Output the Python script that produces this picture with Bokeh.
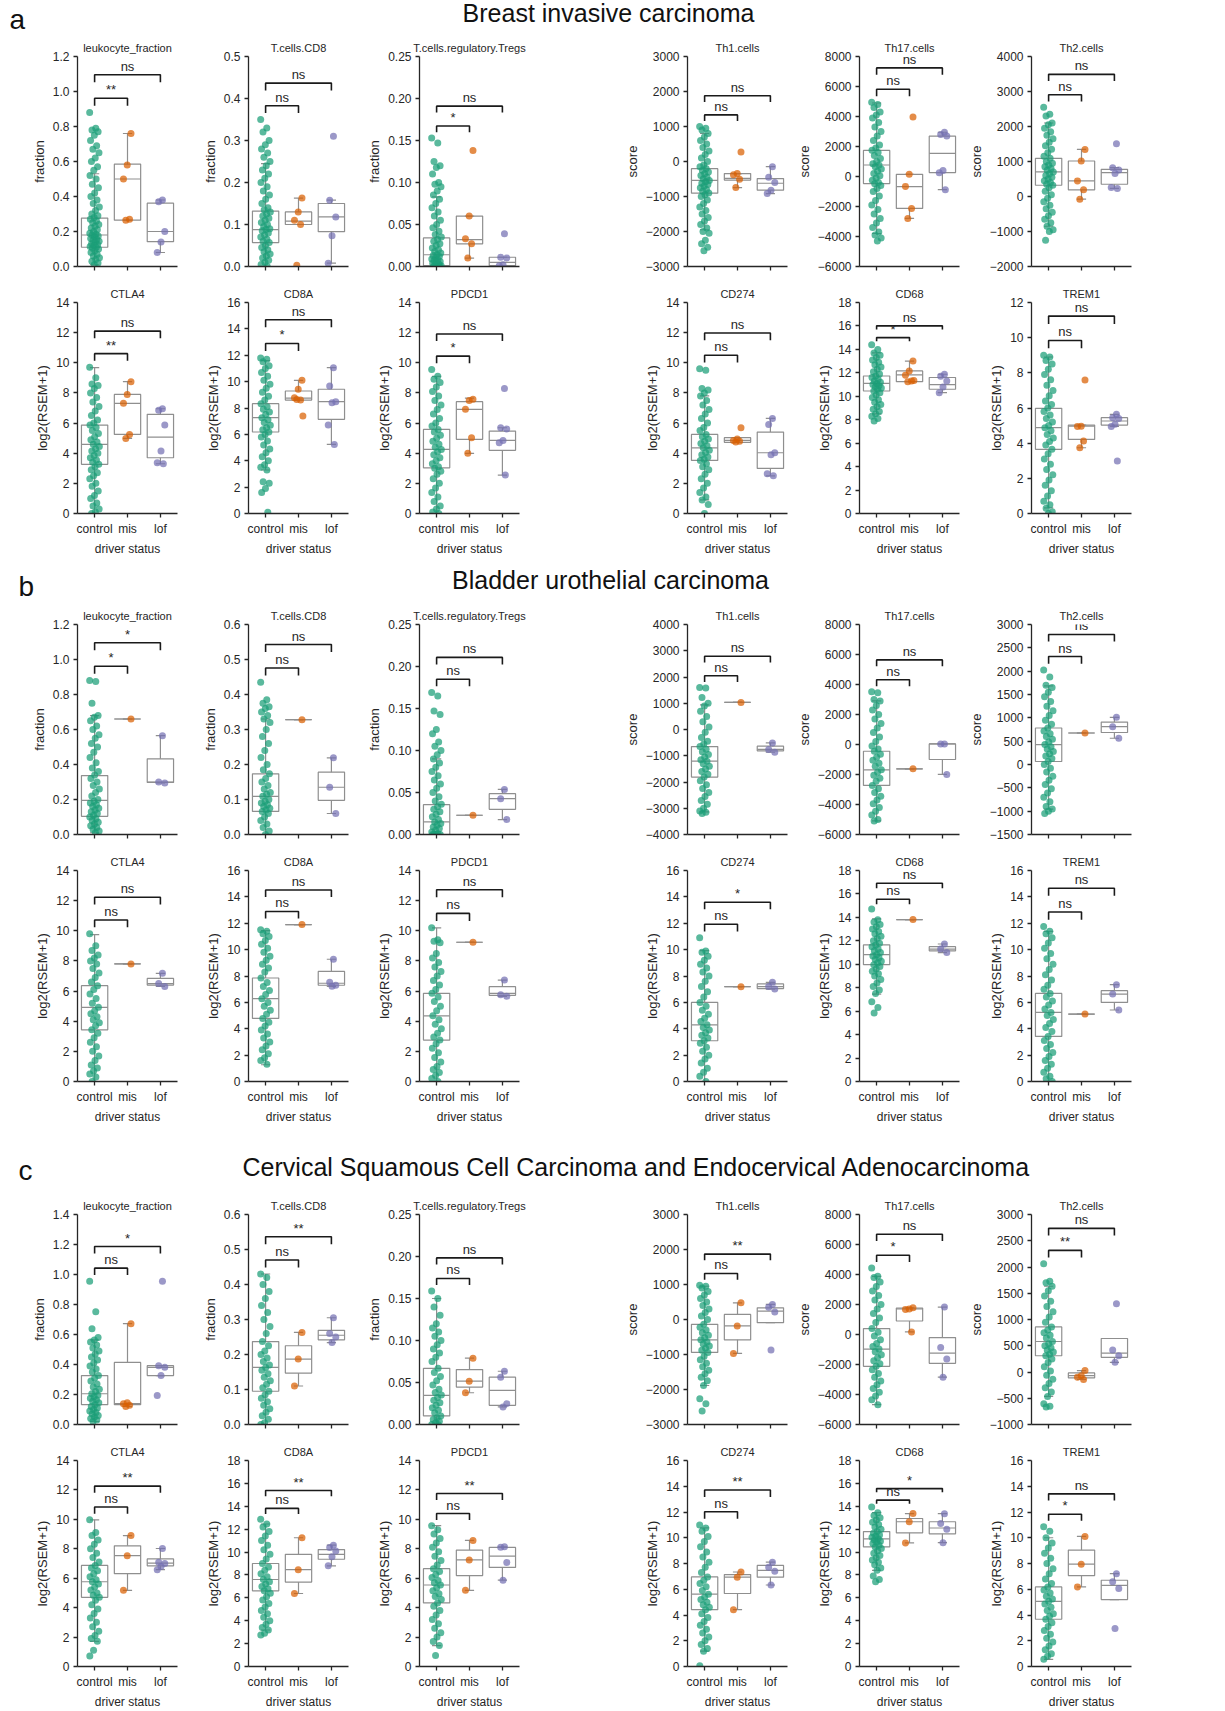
from bokeh.plotting import figure
from bokeh.models import Range1d, FixedTicker, Label
from bokeh.layouts import column, row
from bokeh.embed import file_html
from bokeh.resources import INLINE

# ---------------------------------------------------------------- labels
GROUPS = ["control", "mis", "lof"]
PANEL_TITLES = ["leukocyte_fraction", "T.cells.CD8", "T.cells.regulatory.Tregs",
                "Th1.cells", "Th17.cells", "Th2.cells",
                "CTLA4", "CD8A", "PDCD1", "CD274", "CD68", "TREM1"]
Y_LABELS = ["fraction"] * 3 + ["score"] * 3 + ["log2(RSEM+1)"] * 6
X_LABEL = "driver status"
SECTION_LETTERS = ["a", "b", "c"]
SECTION_TITLES = ["Breast invasive carcinoma",
                  "Bladder urothelial carcinoma",
                  "Cervical Squamous Cell Carcinoma and Endocervical Adenocarcinoma"]

# ---------------------------------------------------------------- BRCA (a)
brca_ylim = [(0, 1.2, 0.2), (0, 0.5, 0.1), (0, 0.25, 0.05), (-3000, 3000, 1000),
             (-6000, 8000, 2000), (-2000, 4000, 1000), (0, 14, 2), (0, 16, 2),
             (0, 14, 2), (0, 14, 2), (0, 18, 2), (0, 12, 2)]
brca_control = [
    [0.88, 0.79, 0.78, 0.77, 0.75, 0.72, 0.69, 0.67, 0.65, 0.62, 0.6, 0.57, 0.55, 0.52, 0.5, 0.47, 0.45, 0.42, 0.4, 0.38, 0.36, 0.34, 0.32, 0.3, 0.29, 0.28, 0.27, 0.26, 0.25, 0.24, 0.23, 0.22, 0.21, 0.2, 0.19, 0.185, 0.18, 0.175, 0.17, 0.16, 0.155, 0.15, 0.145, 0.14, 0.13, 0.125, 0.12, 0.115, 0.11, 0.105, 0.1, 0.09, 0.08, 0.07, 0.06, 0.05, 0.04, 0.03, 0.02, 0.01],
    [0.35, 0.33, 0.32, 0.30, 0.29, 0.28, 0.27, 0.26, 0.25, 0.24, 0.23, 0.22, 0.21, 0.2, 0.19, 0.18, 0.17, 0.16, 0.15, 0.14, 0.135, 0.13, 0.125, 0.12, 0.115, 0.11, 0.105, 0.1, 0.095, 0.09, 0.088, 0.085, 0.08, 0.075, 0.07, 0.065, 0.06, 0.057, 0.05, 0.045, 0.04, 0.035, 0.03, 0.025, 0.02, 0.015, 0.01, 0.005, 0.0],
    [0.153, 0.147, 0.125, 0.12, 0.118, 0.11, 0.1, 0.098, 0.095, 0.09, 0.085, 0.08, 0.075, 0.07, 0.065, 0.06, 0.055, 0.05, 0.046, 0.042, 0.038, 0.035, 0.032, 0.03, 0.027, 0.025, 0.022, 0.02, 0.018, 0.016, 0.014, 0.013, 0.012, 0.01, 0.009, 0.008, 0.007, 0.006, 0.005, 0.004, 0.003, 0.002, 0.001, 0.0, 0.0, 0.0, 0.0],
    [1000, 950, 900, 800, 700, 600, 500, 400, 300, 200, 100, 0, -100, -150, -200, -250, -300, -350, -400, -450, -500, -540, -580, -620, -660, -700, -750, -800, -850, -900, -950, -1000, -1100, -1200, -1300, -1400, -1500, -1600, -1700, -1800, -1900, -2000, -2050, -2250, -2350, -2450, -2550],
    [4950, 4800, 4600, 4300, 4100, 3900, 3600, 3300, 3000, 2700, 2400, 2100, 1900, 1750, 1600, 1400, 1200, 1000, 850, 770, 650, 500, 350, 200, 50, -100, -250, -400, -480, -600, -800, -1000, -1300, -1600, -1900, -2200, -2500, -2800, -3100, -3400, -3700, -3900, -4100, -4300],
    [2550, 2350, 2300, 2100, 2050, 1950, 1850, 1750, 1650, 1550, 1450, 1350, 1250, 1150, 1090, 1000, 950, 900, 850, 800, 750, 700, 650, 600, 550, 500, 450, 400, 350, 320, 250, 150, 50, -50, -150, -250, -350, -450, -550, -650, -750, -850, -950, -1000, -1250],
    [9.7, 9.0, 8.6, 8.5, 8.3, 8.0, 7.7, 7.4, 7.1, 6.8, 6.5, 6.2, 6.0, 5.87, 5.7, 5.5, 5.3, 5.1, 4.9, 4.75, 4.6, 4.45, 4.3, 4.15, 4.0, 3.85, 3.7, 3.55, 3.4, 3.26, 3.1, 2.9, 2.7, 2.5, 2.3, 2.0, 1.8, 1.5, 1.2, 1.0, 0.7, 0.5, 0.3, 0.1, 0.0],
    [11.8, 11.7, 11.5, 11.2, 11.0, 10.7, 10.4, 10.1, 9.8, 9.5, 9.2, 8.9, 8.6, 8.33, 8.1, 7.9, 7.7, 7.5, 7.27, 7.1, 6.9, 6.7, 6.5, 6.35, 6.18, 6.0, 5.8, 5.5, 5.2, 4.9, 4.6, 4.3, 4.0, 3.7, 3.5, 3.3, 2.4, 2.3, 1.9, 1.6, 0.1],
    [9.55, 9.1, 8.9, 8.7, 8.4, 8.1, 7.8, 7.5, 7.2, 6.9, 6.6, 6.3, 6.0, 5.8, 5.58, 5.4, 5.2, 5.0, 4.8, 4.6, 4.4, 4.25, 4.1, 3.9, 3.7, 3.5, 3.3, 3.1, 3.0, 2.8, 2.6, 2.3, 2.0, 1.7, 1.4, 1.1, 0.8, 0.5, 0.3, 0.1, 0.0],
    [9.6, 9.5, 8.3, 8.2, 8.0, 7.8, 7.5, 7.2, 6.9, 6.6, 6.3, 6.0, 5.7, 5.5, 5.25, 5.1, 4.95, 4.8, 4.65, 4.5, 4.36, 4.2, 4.05, 3.9, 3.75, 3.6, 3.52, 3.3, 3.1, 2.9, 2.6, 2.3, 2.0, 1.7, 1.4, 1.1, 0.9, 0.6, 0.0],
    [14.4, 14.0, 13.7, 13.5, 13.3, 13.1, 12.9, 12.7, 12.5, 12.3, 12.1, 11.9, 11.73, 11.6, 11.45, 11.3, 11.2, 11.1, 11.0, 10.9, 10.8, 10.7, 10.6, 10.45, 10.3, 10.1, 9.9, 9.7, 9.5, 9.3, 9.1, 8.9, 8.7, 8.5, 8.3, 8.1, 7.9],
    [9.0, 8.9, 8.7, 8.5, 8.2, 7.9, 7.6, 7.3, 7.0, 6.7, 6.4, 6.2, 6.0, 5.8, 5.6, 5.4, 5.2, 5.0, 4.88, 4.7, 4.5, 4.3, 4.1, 3.9, 3.65, 3.4, 3.1, 2.8, 2.5, 2.2, 1.9, 1.6, 1.3, 1.0, 0.7, 0.5, 0.3, 0.1, 0.0],
]
brca_mis = [
    [0.76, 0.58, 0.50, 0.27, 0.265],
    [0.163, 0.13, 0.11, 0.10, 0.003],
    [0.138, 0.06, 0.033, 0.027, 0.01],
    [270, -346, -380, -507, -744],
    [3975, 148, -670, -2130, -2793],
    [1346, 1014, 445, 190, -76],
    [8.75, 7.9, 7.31, 5.25, 4.98],
    [10.1, 9.42, 8.78, 8.6, 8.65, 7.39],
    [7.58, 7.5, 6.91, 5.03, 3.99],
    [5.69, 4.95, 4.85, 4.8, 4.75],
    [13.0, 12.16, 11.8, 11.3, 11.25, 11.35],
    [7.59, 4.96, 4.95, 4.12, 3.74],
]
brca_lof = [
    [0.38, 0.37, 0.20, 0.14, 0.08],
    [0.31, 0.158, 0.118, 0.073, 0.008],
    [0.039, 0.011, 0.01, 0.002, 0.001],
    [-147, -450, -602, -820, -915],
    [2950, 2800, 2700, 400, 250, -880],
    [1507, 825, 760, 654, 256, 230],
    [6.95, 6.85, 5.87, 4.14, 3.37, 3.3],
    [11.06, 9.67, 8.48, 8.4, 6.71, 5.24],
    [8.29, 5.69, 5.6, 4.85, 4.7, 2.55],
    [6.31, 5.91, 4.03, 3.9, 2.64, 2.5],
    [11.88, 11.7, 11.3, 10.8, 10.31],
    [5.64, 5.45, 5.4, 5.07, 4.95, 2.98],
]
# box statistics: (lower whisker, q1, median, q3, upper whisker)
brca_box_control = [(0.01, 0.11, 0.18, 0.277, 0.53), (0.0, 0.057, 0.088, 0.132, 0.245),
                    (0.0, 0.001, 0.014, 0.034, 0.083), (-1950, -905, -540, -205, 800),
                    (-3800, -471, 767, 1741, 4900), (-850, 322, 701, 1090, 2100),
                    (0.0, 3.26, 4.59, 5.87, 9.68), (3.3, 6.18, 7.27, 8.33, 11.6),
                    (0.0, 3.03, 4.25, 5.58, 9.1), (0.9, 3.52, 4.36, 5.25, 7.8),
                    (8.5, 10.45, 11.1, 11.73, 13.7), (0.32, 3.65, 4.88, 5.98, 8.9)]
brca_box_mis = [(0.265, 0.265, 0.50, 0.585, 0.76), (0.10, 0.10, 0.108, 0.13, 0.163),
                (0.01, 0.027, 0.032, 0.06, 0.06), (-744, -530, -480, -346, -346),
                (-2793, -2130, -670, 148, 148), (-76, 190, 445, 1014, 1346),
                (4.98, 5.25, 7.31, 7.9, 8.75), (8.6, 8.6, 8.75, 9.29, 10.1),
                (3.99, 4.92, 6.91, 7.42, 7.65), (4.72, 4.72, 4.85, 5.03, 5.03),
                (11.25, 11.25, 11.82, 12.16, 13.0), (3.74, 4.21, 4.97, 5.03, 5.03)]
brca_box_lof = [(0.08, 0.142, 0.20, 0.362, 0.38), (0.008, 0.083, 0.118, 0.15, 0.158),
                (0.0, 0.001, 0.005, 0.011, 0.011), (-915, -820, -621, -488, -147),
                (-880, 260, 1540, 2690, 2950), (230, 350, 683, 777, 825),
                (3.3, 3.7, 5.07, 6.58, 6.95), (5.24, 7.14, 8.48, 9.42, 11.06),
                (2.55, 4.19, 4.85, 5.47, 5.69), (2.5, 2.99, 4.03, 5.4, 6.31),
                (10.31, 10.6, 11.0, 11.6, 11.88), (4.95, 5.03, 5.26, 5.45, 5.64)]
brca_sig = [("**", "ns"), ("ns", "ns"), ("*", "ns"), ("ns", "ns"), ("ns", "ns"), ("ns", "ns"),
            ("**", "ns"), ("*", "ns"), ("*", "ns"), ("ns", "ns"), ("*", "ns"), ("ns", "ns")]

# ---------------------------------------------------------------- BLCA (b)
blca_ylim = [(0, 1.2, 0.2), (0, 0.6, 0.1), (0, 0.25, 0.05), (-4000, 4000, 1000),
             (-6000, 8000, 2000), (-1500, 3000, 500), (0, 14, 2), (0, 16, 2),
             (0, 14, 2), (0, 16, 2), (0, 18, 2), (0, 16, 2)]
blca_control = [
    [0.88, 0.875, 0.75, 0.68, 0.67, 0.65, 0.62, 0.6, 0.57, 0.55, 0.52, 0.5, 0.47, 0.44, 0.41, 0.38, 0.36, 0.34, 0.32, 0.3, 0.28, 0.26, 0.24, 0.22, 0.2, 0.19, 0.18, 0.17, 0.16, 0.15, 0.14, 0.13, 0.12, 0.11, 0.1, 0.09, 0.08, 0.07, 0.06, 0.05, 0.04, 0.03, 0.02, 0.01],
    [0.435, 0.385, 0.375, 0.365, 0.36, 0.35, 0.34, 0.33, 0.32, 0.3, 0.28, 0.26, 0.24, 0.22, 0.2, 0.185, 0.1735, 0.16, 0.15, 0.14, 0.13, 0.12, 0.115, 0.109, 0.1, 0.095, 0.09, 0.085, 0.08, 0.075, 0.07, 0.066, 0.06, 0.05, 0.04, 0.03, 0.02, 0.01, 0.0],
    [0.169, 0.165, 0.147, 0.143, 0.125, 0.12, 0.11, 0.105, 0.1, 0.095, 0.09, 0.085, 0.08, 0.075, 0.07, 0.065, 0.06, 0.055, 0.05, 0.045, 0.04, 0.036, 0.033, 0.03, 0.027, 0.024, 0.021, 0.018, 0.015, 0.013, 0.011, 0.009, 0.007, 0.005, 0.003, 0.001, 0.0, 0.0, 0.0, 0.0],
    [1600, 1580, 1220, 1000, 900, 700, 500, 300, 100, -100, -300, -450, -550, -651, -750, -850, -950, -1050, -1150, -1207, -1300, -1400, -1500, -1600, -1700, -1814, -1950, -2100, -2250, -2400, -2550, -2700, -2850, -3000, -3100, -3150, -3200],
    [3510, 3450, 3000, 2900, 2600, 2300, 2000, 1700, 1400, 1100, 800, 500, 200, -100, -300, -449, -650, -850, -1050, -1250, -1450, -1687, -1850, -2050, -2250, -2450, -2727, -2950, -3200, -3450, -3700, -3950, -4200, -4450, -4700, -5000, -5100],
    [2026, 1877, 1700, 1650, 1550, 1450, 1350, 1250, 1150, 1050, 950, 860, 782, 720, 660, 600, 540, 480, 427, 380, 330, 280, 230, 180, 130, 64, 0, -80, -160, -250, -340, -430, -520, -610, -700, -800, -900, -955, -1000, -1050],
    [9.8, 9.0, 8.7, 8.4, 8.2, 8.0, 7.8, 7.5, 7.2, 6.9, 6.6, 6.36, 6.1, 5.8, 5.5, 5.2, 4.92, 4.7, 4.5, 4.3, 4.1, 3.9, 3.7, 3.43, 3.2, 2.9, 2.6, 2.3, 2.0, 1.7, 1.4, 1.1, 0.9, 0.7, 0.5, 0.3, 0.0],
    [11.5, 11.4, 11.2, 11.0, 10.7, 10.4, 10.1, 9.8, 9.5, 9.2, 8.9, 8.6, 8.3, 7.85, 7.5, 7.2, 6.9, 6.6, 6.28, 6.0, 5.7, 5.4, 5.1, 4.78, 4.5, 4.2, 3.9, 3.6, 3.3, 3.0, 2.7, 2.4, 2.1, 1.8, 1.6, 1.3],
    [10.2, 9.4, 9.3, 9.2, 8.5, 8.2, 7.9, 7.6, 7.3, 7.0, 6.7, 6.4, 6.1, 5.85, 5.6, 5.3, 5.0, 4.7, 4.36, 4.1, 3.8, 3.5, 3.2, 2.95, 2.75, 2.5, 2.2, 1.9, 1.6, 1.3, 1.0, 0.8, 0.6, 0.4, 0.2, 0.0],
    [10.9, 9.9, 9.8, 9.5, 9.2, 8.9, 8.6, 8.3, 8.0, 7.6, 7.2, 6.8, 6.4, 6.0, 5.7, 5.4, 5.1, 4.8, 4.55, 4.3, 4.1, 3.9, 3.7, 3.5, 3.3, 3.09, 2.9, 2.6, 2.3, 2.0, 1.7, 1.4, 1.0, 0.7, 0.4, 0.0],
    [14.72, 13.8, 13.6, 13.4, 13.2, 13.0, 12.8, 12.6, 12.4, 12.2, 12.0, 11.8, 11.65, 11.5, 11.3, 11.15, 11.0, 10.82, 10.7, 10.55, 10.4, 10.25, 10.1, 9.97, 9.8, 9.6, 9.4, 9.2, 9.0, 8.7, 8.4, 8.1, 7.8, 7.5, 6.8, 6.32, 5.84],
    [11.75, 11.4, 11.2, 10.9, 10.5, 10.1, 9.7, 9.3, 8.9, 8.5, 8.1, 7.7, 7.3, 7.0, 6.68, 6.4, 6.1, 5.8, 5.5, 5.24, 5.0, 4.7, 4.4, 4.1, 3.8, 3.42, 3.1, 2.8, 2.5, 2.2, 1.9, 1.6, 1.3, 1.0, 0.7, 0.4, 0.2, 0.0],
]
blca_mis = [[0.66], [0.328], [0.0229], [1030], [-1621], [675],
            [7.8], [11.9], [9.24], [7.19], [13.81], [5.11]]
blca_lof = [
    [0.565, 0.30, 0.295],
    [0.219, 0.135, 0.06],
    [0.0537, 0.0427, 0.0178],
    [-512, -760, -866],
    [38, 38, -1997],
    [1010, 810, 562],
    [7.18, 6.5, 6.31],
    [9.27, 7.52, 7.3, 7.22],
    [6.73, 5.76, 5.65],
    [7.52, 7.2, 7.01],
    [11.73, 11.3, 11.0],
    [7.34, 6.63, 5.42],
]
blca_box_control = [(0.01, 0.104, 0.195, 0.337, 0.679), (0.0, 0.066, 0.109, 0.1735, 0.33),
                    (0.0, 0.0, 0.015, 0.0355, 0.09), (-3140, -1814, -1207, -651, 941),
                    (-5093, -2727, -1687, -449, 2913), (-955, 64, 427, 782, 1685),
                    (0.0, 3.43, 4.92, 6.36, 9.75), (1.27, 4.78, 6.28, 7.85, 11.44),
                    (0.0, 2.75, 4.36, 5.85, 10.19), (0.0, 3.09, 4.3, 6.0, 9.92),
                    (7.46, 9.97, 10.82, 11.65, 13.87), (0.0, 3.42, 5.24, 6.68, 11.39)]
blca_box_mis = [(v[0],) * 5 for v in blca_mis]
blca_box_lof = [(0.295, 0.2975, 0.30, 0.4325, 0.565), (0.06, 0.0976, 0.135, 0.178, 0.219),
                (0.0178, 0.030, 0.0427, 0.0486, 0.0537), (-866, -813, -760, -636, -512),
                (-1997, -1001, 38, 38, 38), (562, 686, 810, 910, 1010),
                (6.31, 6.4, 6.5, 6.84, 7.18), (7.22, 7.3, 7.45, 8.35, 9.27),
                (5.65, 5.72, 5.85, 6.29, 6.73), (7.01, 7.05, 7.2, 7.4, 7.52),
                (11.0, 11.15, 11.3, 11.5, 11.73), (5.42, 6.0, 6.63, 6.89, 7.34)]
blca_sig = [("*", "*"), ("ns", "ns"), ("ns", "ns"), ("ns", "ns"), ("ns", "ns"), ("ns", "ns"),
            ("ns", "ns"), ("ns", "ns"), ("ns", "ns"), ("ns", "*"), ("ns", "ns"), ("ns", "ns")]

# ---------------------------------------------------------------- CESC (c)
cesc_ylim = [(0, 1.4, 0.2), (0, 0.6, 0.1), (0, 0.25, 0.05), (-3000, 3000, 1000),
             (-6000, 8000, 2000), (-1000, 3000, 500), (0, 14, 2), (0, 18, 2),
             (0, 14, 2), (0, 16, 2), (0, 18, 2), (0, 16, 2)]
cesc_control = [
    [0.955, 0.752, 0.639, 0.58, 0.564, 0.55, 0.53, 0.51, 0.49, 0.47, 0.45, 0.43, 0.41, 0.39, 0.37, 0.35, 0.326, 0.31, 0.29, 0.27, 0.25, 0.235, 0.22, 0.205, 0.195, 0.185, 0.175, 0.165, 0.155, 0.145, 0.132, 0.12, 0.11, 0.1, 0.09, 0.08, 0.07, 0.06, 0.05, 0.04, 0.03, 0.02],
    [0.43, 0.42, 0.4, 0.38, 0.36, 0.34, 0.32, 0.3, 0.28, 0.26, 0.237, 0.225, 0.21, 0.2, 0.19, 0.18, 0.17, 0.163, 0.155, 0.145, 0.135, 0.125, 0.115, 0.105, 0.095, 0.085, 0.075, 0.065, 0.055, 0.045, 0.035, 0.025, 0.015, 0.005, 0.0],
    [0.159, 0.15, 0.14, 0.13, 0.12, 0.115, 0.11, 0.105, 0.1, 0.095, 0.09, 0.085, 0.08, 0.075, 0.067, 0.062, 0.057, 0.052, 0.047, 0.042, 0.038, 0.035, 0.032, 0.029, 0.026, 0.023, 0.02, 0.017, 0.014, 0.0102, 0.008, 0.006, 0.004, 0.002, 0.0, 0.0],
    [980, 950, 900, 800, 700, 600, 500, 400, 300, 200, 100, 0, -137, -220, -300, -380, -450, -520, -581, -640, -700, -760, -820, -880, -940, -1050, -1150, -1250, -1350, -1450, -1550, -1650, -1750, -1885, -2263, -2405, -2613],
    [4428, 3877, 3800, 3500, 3200, 2900, 2600, 2300, 2000, 1700, 1400, 1100, 800, 394, 150, -100, -350, -600, -800, -973, -1150, -1350, -1550, -1750, -1950, -2120, -2350, -2600, -2850, -3100, -3350, -3600, -3850, -4100, -4350, -4677],
    [2061, 1728, 1700, 1633, 1550, 1450, 1350, 1250, 1150, 1050, 950, 858, 800, 750, 700, 650, 581, 540, 500, 460, 420, 380, 340, 310, 250, 180, 100, 20, -60, -140, -220, -300, -380, -465, -603, -650, -666],
    [9.97, 9.1, 8.9, 8.6, 8.3, 8.0, 7.7, 7.4, 7.1, 6.87, 6.7, 6.5, 6.3, 6.1, 5.9, 5.76, 5.6, 5.4, 5.2, 5.0, 4.85, 4.7, 4.5, 4.2, 3.9, 3.6, 3.3, 3.0, 2.7, 2.4, 2.1, 1.9, 1.71, 1.11, 0.71],
    [12.87, 12.45, 12.2, 11.8, 11.4, 11.0, 10.6, 10.2, 9.8, 9.4, 9.0, 8.7, 8.4, 8.1, 7.85, 7.6, 7.4, 7.2, 7.0, 6.8, 6.61, 6.4, 6.1, 5.8, 5.5, 5.2, 4.9, 4.6, 4.3, 4.0, 3.7, 3.4, 3.19, 2.9, 2.75],
    [9.57, 9.3, 9.0, 8.7, 8.4, 8.1, 7.8, 7.5, 7.2, 6.9, 6.65, 6.45, 6.25, 6.05, 5.85, 5.7, 5.54, 5.35, 5.15, 4.95, 4.75, 4.55, 4.32, 4.1, 3.8, 3.5, 3.2, 2.9, 2.6, 2.3, 2.0, 1.7, 1.42, 0.75],
    [11.0, 10.76, 10.5, 10.1, 9.7, 9.3, 8.9, 8.5, 8.1, 7.7, 7.3, 6.96, 6.7, 6.45, 6.2, 5.9, 5.62, 5.4, 5.2, 5.0, 4.8, 4.6, 4.41, 4.1, 3.8, 3.5, 3.2, 2.9, 2.6, 2.3, 2.0, 1.7, 1.4, 1.19, 0.05],
    [13.93, 13.44, 13.2, 13.0, 12.8, 12.6, 12.4, 12.2, 12.0, 11.79, 11.65, 11.5, 11.4, 11.3, 11.16, 11.05, 10.95, 10.85, 10.75, 10.6, 10.45, 10.3, 10.1, 9.9, 9.7, 9.5, 9.3, 9.1, 8.9, 8.6, 8.4, 7.9, 7.6, 7.4],
    [10.86, 10.5, 10.0, 9.6, 9.2, 8.8, 8.4, 8.0, 7.6, 7.2, 6.8, 6.45, 6.18, 5.95, 5.7, 5.45, 5.25, 5.06, 4.85, 4.6, 4.35, 4.1, 3.9, 3.67, 3.4, 3.1, 2.8, 2.5, 2.2, 1.9, 1.6, 1.3, 1.0, 0.8, 0.56],
]
cesc_mis = [
    [0.672, 0.145, 0.139, 0.128, 0.12],
    [0.263, 0.187, 0.11],
    [0.079, 0.0516, 0.0378],
    [477, -184, -969],
    [1783, 1700, 1673, 173],
    [27, -70, -99, -143],
    [8.9, 7.53, 5.18],
    [11.25, 8.46, 6.38],
    [8.57, 7.24, 5.18],
    [7.34, 6.94, 4.41],
    [13.36, 12.65, 10.8],
    [10.1, 7.95, 6.18],
]
cesc_lof = [
    [0.955, 0.392, 0.381, 0.326, 0.194],
    [0.305, 0.26, 0.25, 0.234],
    [0.0634, 0.0563, 0.0248, 0.0209],
    [430, 350, 213, -874],
    [1827, -863, -1635, -2847],
    [1299, 417, 310, 184],
    [8.02, 7.09, 7.0, 6.8, 6.58],
    [10.6, 10.4, 10.1, 9.6, 8.8],
    [8.13, 8.1, 7.07, 5.87],
    [8.1, 7.7, 7.4, 6.33],
    [13.35, 12.5, 12.0, 10.82],
    [7.21, 6.58, 6.05, 2.96],
]
cesc_box_control = [(0.02, 0.132, 0.205, 0.326, 0.564), (0.0, 0.095, 0.163, 0.237, 0.43),
                    (0.0, 0.0102, 0.0346, 0.0669, 0.15), (-1885, -940, -581, -137, 950),
                    (-4677, -2120, -973, 394, 3877), (-465, 310, 581, 858, 1633),
                    (1.71, 4.7, 5.76, 6.87, 9.97), (3.19, 6.61, 7.6, 9.0, 12.45),
                    (1.42, 4.32, 5.54, 6.65, 9.57), (1.19, 4.41, 5.62, 6.96, 10.76),
                    (8.4, 10.45, 11.16, 11.79, 13.44), (0.56, 3.67, 5.06, 6.18, 10.0)]
cesc_box_mis = [(0.12, 0.132, 0.139, 0.414, 0.672), (0.11, 0.147, 0.187, 0.225, 0.263),
                (0.0378, 0.0445, 0.0516, 0.0654, 0.079), (-969, -581, -184, 146, 477),
                (173, 900, 1700, 1760, 1783), (-143, -110, -68, -17, 27),
                (5.18, 6.31, 7.53, 8.2, 8.9), (6.38, 7.38, 8.46, 9.8, 11.25),
                (5.18, 6.18, 7.24, 7.91, 8.57), (4.41, 5.67, 6.94, 7.14, 7.34),
                (10.8, 11.68, 12.65, 12.93, 13.36), (6.18, 7.06, 7.95, 9.04, 10.1)]
cesc_box_lof = [(0.326, 0.326, 0.381, 0.392, 0.392), (0.234, 0.242, 0.255, 0.269, 0.305),
                (0.0209, 0.0228, 0.0406, 0.0563, 0.0634), (-90, -90, 240, 335, 430),
                (-2847, -1921, -1238, -202, 1827), (184, 279, 361, 638, 638),
                (6.58, 6.84, 7.02, 7.31, 8.02), (8.8, 9.37, 9.8, 10.22, 10.6),
                (5.87, 6.73, 7.5, 8.09, 8.13), (6.33, 6.94, 7.47, 7.85, 8.1),
                (10.82, 11.59, 12.1, 12.65, 13.35), (5.2, 5.2, 6.3, 6.7, 7.21)]
cesc_sig = [("ns", "*"), ("ns", "**"), ("ns", "ns"), ("ns", "**"), ("*", "ns"), ("**", "ns"),
            ("ns", "**"), ("ns", "**"), ("ns", "**"), ("ns", "**"), ("ns", "*"), ("*", "ns")]

# ---------------------------------------------------------------- styling
FONT = "Liberation Sans"
INK = "#262626"
COLORS = ["#1b9e77", "#d95f02", "#7570b3"]
BOX_COLOR = "#8f8f8f"
FRAME_W = 100
FRAME_H = 211
COL_LEFT = [77, 66, 66, 156, 67, 67]
COL_RIGHT = [5, 5, 12, 5, 5, 5]
TOTAL_W = sum(COL_LEFT) + sum(COL_RIGHT) + 6 * FRAME_W


def tick_text(v, step):
    if step < 0.099:
        return f"{v:.2f}"
    if step < 1:
        return f"{v:.1f}"
    return str(int(round(v))).replace("-", "\u2212")


def jitter(n, start):
    return [(((k + start) * 0.6180339887) % 1.0 - 0.5) * 0.3 for k in range(n)]


def make_panel(k, col, ylim, groups, boxes, sig, bottom_row, top_b, bot_b):
    y0, y1, step = ylim
    height = top_b + FRAME_H + bot_b
    p = figure(width=COL_LEFT[col] + FRAME_W + COL_RIGHT[col], height=height,
               x_range=Range1d(-0.52, 2.52), y_range=Range1d(y0, y1),
               output_backend="svg", toolbar_location=None,
               min_border_left=COL_LEFT[col], min_border_right=COL_RIGHT[col],
               min_border_top=top_b, min_border_bottom=bot_b, title=PANEL_TITLES[k])
    p.title.align = "center"
    p.title.text_font = FONT
    p.title.text_font_size = "11px"
    p.title.text_font_style = "normal"
    p.title.text_color = INK
    p.title.standoff = 5
    p.outline_line_color = None
    p.grid.visible = False
    p.background_fill_color = "white"
    p.border_fill_color = "white"

    n = int(round((y1 - y0) / step))
    ticks = [round(y0 + i * step, 6) for i in range(n + 1)]
    p.yaxis.ticker = FixedTicker(ticks=ticks)
    p.yaxis.major_label_overrides = {t: tick_text(t, step) for t in ticks}
    p.yaxis.axis_label = Y_LABELS[k]
    if bottom_row:
        p.xaxis.ticker = FixedTicker(ticks=[0, 1, 2])
        p.xaxis.major_label_overrides = {0: GROUPS[0], 1: GROUPS[1], 2: GROUPS[2]}
        p.xaxis.axis_label = X_LABEL
    else:
        # tick marks only (no labels) on the upper row
        p.xaxis.ticker = FixedTicker(ticks=[], minor_ticks=[0, 1, 2])
    for ax in (p.xaxis[0], p.yaxis[0]):
        ax.axis_line_color = INK
        ax.axis_line_width = 1.3
        ax.major_tick_line_color = INK
        ax.major_tick_line_width = 1.3
        ax.major_tick_out = 4
        ax.major_tick_in = 0
        ax.major_label_text_font = FONT
        ax.major_label_text_color = INK
        ax.major_label_standoff = 4
        ax.axis_label_text_font = FONT
        ax.axis_label_text_font_style = "normal"
        ax.axis_label_text_color = INK
        ax.axis_label_standoff = 3
    p.yaxis.minor_tick_line_color = None
    if bottom_row:
        p.xaxis.minor_tick_line_color = None
    else:
        p.xaxis.minor_tick_line_color = INK
        p.xaxis.minor_tick_line_width = 1.3
        p.xaxis.minor_tick_out = 4
        p.xaxis.minor_tick_in = 0
    p.yaxis.major_label_text_font_size = "12px"
    p.yaxis.axis_label_text_font_size = "13px"
    p.xaxis.major_label_text_font_size = "12px"
    p.xaxis.axis_label_text_font_size = "12px"

    # boxes
    for g, (lo, q1, med, q3, hi) in enumerate(boxes):
        p.quad(left=[g - 0.4], right=[g + 0.4], bottom=[q1], top=[q3],
               fill_color=None, line_color=BOX_COLOR, line_width=1.2)
        p.segment(x0=[g, g, g - 0.14, g - 0.14, g - 0.4], y0=[q1, q3, lo, hi, med],
                  x1=[g, g, g + 0.14, g + 0.14, g + 0.4], y1=[lo, hi, lo, hi, med],
                  line_color=BOX_COLOR, line_width=1.2)
    # points
    for g, vals in enumerate(groups):
        offs = jitter(len(vals), 3 * g)
        p.scatter(x=[g + o for o in offs], y=vals, size=7, fill_color=COLORS[g],
                  fill_alpha=0.72, line_color=None)
    # significance brackets
    allv = groups[0] + groups[1] + groups[2]
    span = 1.1 * (max(allv) - min(allv))
    y_low = max(groups[0] + groups[1]) + 0.085 * span
    y_up = y_low + 0.14 * span
    drop = 0.045 * span
    for (xa, xb, yb, s) in [(0, 1, y_low, sig[0]), (0, 2, y_up, sig[1])]:
        p.line(x=[xa, xa, xb, xb], y=[yb - drop, yb, yb, yb - drop],
               line_color="#1a1a1a", line_width=1.6)
        p.add_layout(Label(x=(xa + xb) / 2, y=yb, text=s, text_align="center",
                           text_baseline="bottom", y_offset=1, text_font=FONT,
                           text_font_size="13px", text_color=INK))
    return p


def make_header(letter, title, h, letter_x, letter_y, title_x, title_y):
    p = figure(width=TOTAL_W, height=h, x_range=Range1d(0, TOTAL_W), y_range=Range1d(0, h),
               x_axis_location=None, y_axis_location=None, output_backend="svg",
               toolbar_location=None, min_border=0, title=None)
    p.outline_line_color = None
    p.grid.visible = False
    p.add_layout(Label(x=letter_x, y=letter_y, text=letter, text_font=FONT,
                       text_font_size="28px", text_color="#111111", text_align="left",
                       text_baseline="alphabetic"))
    p.add_layout(Label(x=title_x, y=title_y, text=title, text_font=FONT,
                       text_font_size="25px", text_color="#111111", text_align="center",
                       text_baseline="alphabetic"))
    return p


SECTIONS = [
    dict(ylim=brca_ylim, c=brca_control, m=brca_mis, l=brca_lof,
         bc=brca_box_control, bm=brca_box_mis, bl=brca_box_lof, sig=brca_sig),
    dict(ylim=blca_ylim, c=blca_control, m=blca_mis, l=blca_lof,
         bc=blca_box_control, bm=blca_box_mis, bl=blca_box_lof, sig=blca_sig),
    dict(ylim=cesc_ylim, c=cesc_control, m=cesc_mis, l=cesc_lof,
         bc=cesc_box_control, bm=cesc_box_mis, bl=cesc_box_lof, sig=cesc_sig),
]
# header height, letter x, letter y, title centre x, title y (data units = px from bottom)
HEADER_GEOM = [(37, 9, 18, 608, 24.5), (44, 18, 19, 610, 25.5), (66, 18, 25, 636, 28.5)]
BOTTOM_BORDERS = [48, 48, 40]
TOP_ROW_TOP = 18

children = []
for s, sec in enumerate(SECTIONS):
    h, lx, ly, tx, ty = HEADER_GEOM[s]
    children.append(make_header(SECTION_LETTERS[s], SECTION_TITLES[s], h, lx, ly, tx, ty))
    for r in range(2):
        figs = []
        for col in range(6):
            k = r * 6 + col
            groups = [sec["c"][k], sec["m"][k], sec["l"][k]]
            boxes = [sec["bc"][k], sec["bm"][k], sec["bl"][k]]
            figs.append(make_panel(k, col, sec["ylim"][k], groups, boxes, sec["sig"][k],
                                   bottom_row=(r == 1),
                                   top_b=(TOP_ROW_TOP if r == 0 else 24),
                                   bot_b=(12 if r == 0 else BOTTOM_BORDERS[s])))
        children.append(row(*figs))

layout = column(*children)
open("out.html", "w").write(file_html(layout, INLINE, title="driver status boxplots"))
